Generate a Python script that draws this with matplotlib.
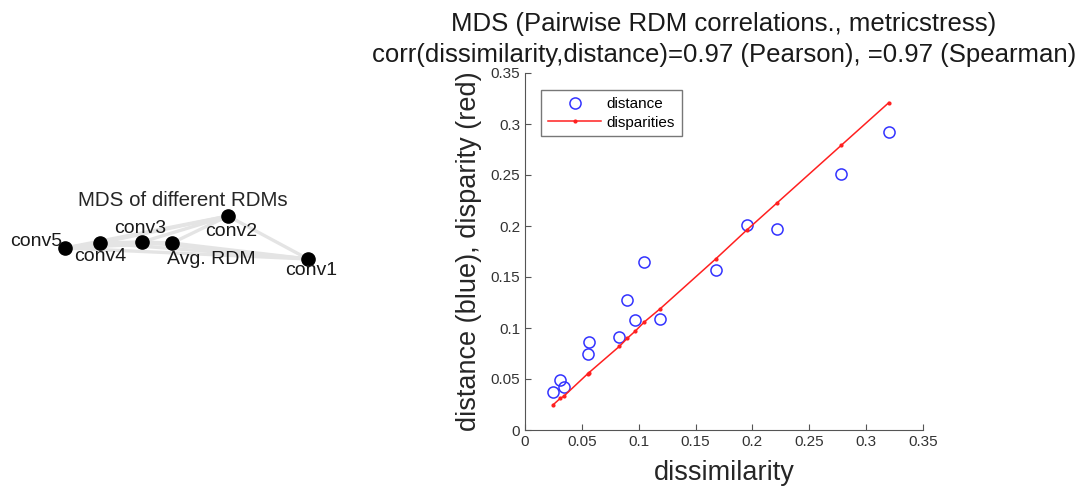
import itertools

import numpy as np
import matplotlib
matplotlib.use("Agg")
import matplotlib.pyplot as plt

plt.rcParams["font.family"] = ["Liberation Sans", "DejaVu Sans"]

# ---------------------------------------------------------------------------
# data
# ---------------------------------------------------------------------------

# left panel: 2-D MDS arrangement of the RDMs
rdm_names = ["conv1", "conv2", "conv3", "conv4", "conv5", "Avg. RDM"]
mds_x = [1.38, 0.58, -0.28, -0.70, -1.05, 0.02]
mds_y = [-0.14, 0.29, 0.03, 0.02, -0.03, 0.02]

# right panel: Shepard plot
dissimilarity = [0.025, 0.031, 0.034, 0.055, 0.056, 0.083, 0.090, 0.097,
                 0.105, 0.119, 0.168, 0.195, 0.222, 0.278, 0.320]
distance = [0.037, 0.049, 0.042, 0.075, 0.086, 0.091, 0.127, 0.108,
            0.165, 0.109, 0.157, 0.201, 0.197, 0.251, 0.292]
disparities = [0.025, 0.031, 0.033, 0.055, 0.056, 0.082, 0.090, 0.097,
               0.106, 0.119, 0.168, 0.196, 0.223, 0.279, 0.321]

x_ticks = [0, 0.05, 0.1, 0.15, 0.2, 0.25, 0.3, 0.35]
y_ticks = [0, 0.05, 0.1, 0.15, 0.2, 0.25, 0.3, 0.35]
tick_labels = ["0", "0.05", "0.1", "0.15", "0.2", "0.25", "0.3", "0.35"]

# label offsets (points) for the MDS labels
_LABEL_OFFSETS = {
    "conv1": (2, -8),
    "conv2": (2, -11),
    "conv3": (-1, 10),
    "conv4": (0, -10),
    "conv5": (-21, 5),
    "Avg. RDM": (28, -12),
}

fig = plt.figure(figsize=(10.85, 4.9), dpi=100)

# ---------------------------------------------------------------------------
# left: MDS arrangement
# ---------------------------------------------------------------------------
ax0 = fig.add_axes([0, 0, 360 / 1085, 1])
ax0.set_xlim(-1.7, 1.9)
ax0.set_ylim(-2.45, 2.45)
ax0.axis("off")

for i, j in itertools.combinations(range(len(rdm_names)), 2):
    ax0.plot([mds_x[i], mds_x[j]], [mds_y[i], mds_y[j]],
             color="#e4e4e4", lw=2.4, solid_capstyle="round", zorder=1)

ax0.plot(mds_x, mds_y, "o", color="black", ms=9.5, ls="none", zorder=3)
for name, x, y in zip(rdm_names, mds_x, mds_y):
    dx, dy = _LABEL_OFFSETS[name]
    ax0.annotate(name, (x, y), xytext=(dx, dy), textcoords="offset points",
                 ha="center", va="center", fontsize=14, color="#1a1a1a",
                 zorder=4)
ax0.text(0.13, 0.45, "MDS of different RDMs", ha="center", va="center",
         fontsize=14.8, color="#262626")

# ---------------------------------------------------------------------------
# right: Shepard plot
# ---------------------------------------------------------------------------
ax = fig.add_axes([525 / 1085, 60 / 490, 398 / 1085, 357 / 490])
ax.plot(dissimilarity, distance, "o", mfc="none", mec="#3333ff", mew=1.1,
        ms=8, ls="none", label="distance")
ax.plot(dissimilarity, disparities, "-", color="#ff2020", lw=1.1,
        marker=".", ms=4, label="disparities")

ax.set_xlim(0, 0.35)
ax.set_ylim(0, 0.35)
ax.set_xticks(x_ticks)
ax.set_xticklabels(tick_labels)
ax.set_yticks(y_ticks)
ax.set_yticklabels(tick_labels)
ax.tick_params(direction="in", length=4, width=0.8, color="#555555",
               labelsize=11, labelcolor="#333333")
for side in ("top", "right"):
    ax.spines[side].set_visible(False)
for side in ("left", "bottom"):
    ax.spines[side].set_color("#555555")
    ax.spines[side].set_linewidth(0.8)

ax.set_xlabel("dissimilarity", fontsize=19.5, color="#262626", labelpad=8)
ax.set_ylabel("distance (blue), disparity (red)", fontsize=19.5,
              color="#262626", labelpad=6)
ax.set_title("MDS (Pairwise RDM correlations., metricstress)\n"
             "corr(dissimilarity,distance)=0.97 (Pearson), =0.97 (Spearman)",
             fontsize=18.5, color="#1a1a1a", linespacing=1.35, pad=8)

leg = ax.legend(loc="upper left", bbox_to_anchor=(0.04, 0.952),
                borderaxespad=0, fontsize=11, frameon=True, fancybox=False,
                borderpad=0.45, handlelength=3.5, handletextpad=0.35,
                labelspacing=0.3)
leg.get_frame().set_edgecolor("#555555")
leg.get_frame().set_linewidth(1.0)

fig.savefig("out.png", dpi=100)
